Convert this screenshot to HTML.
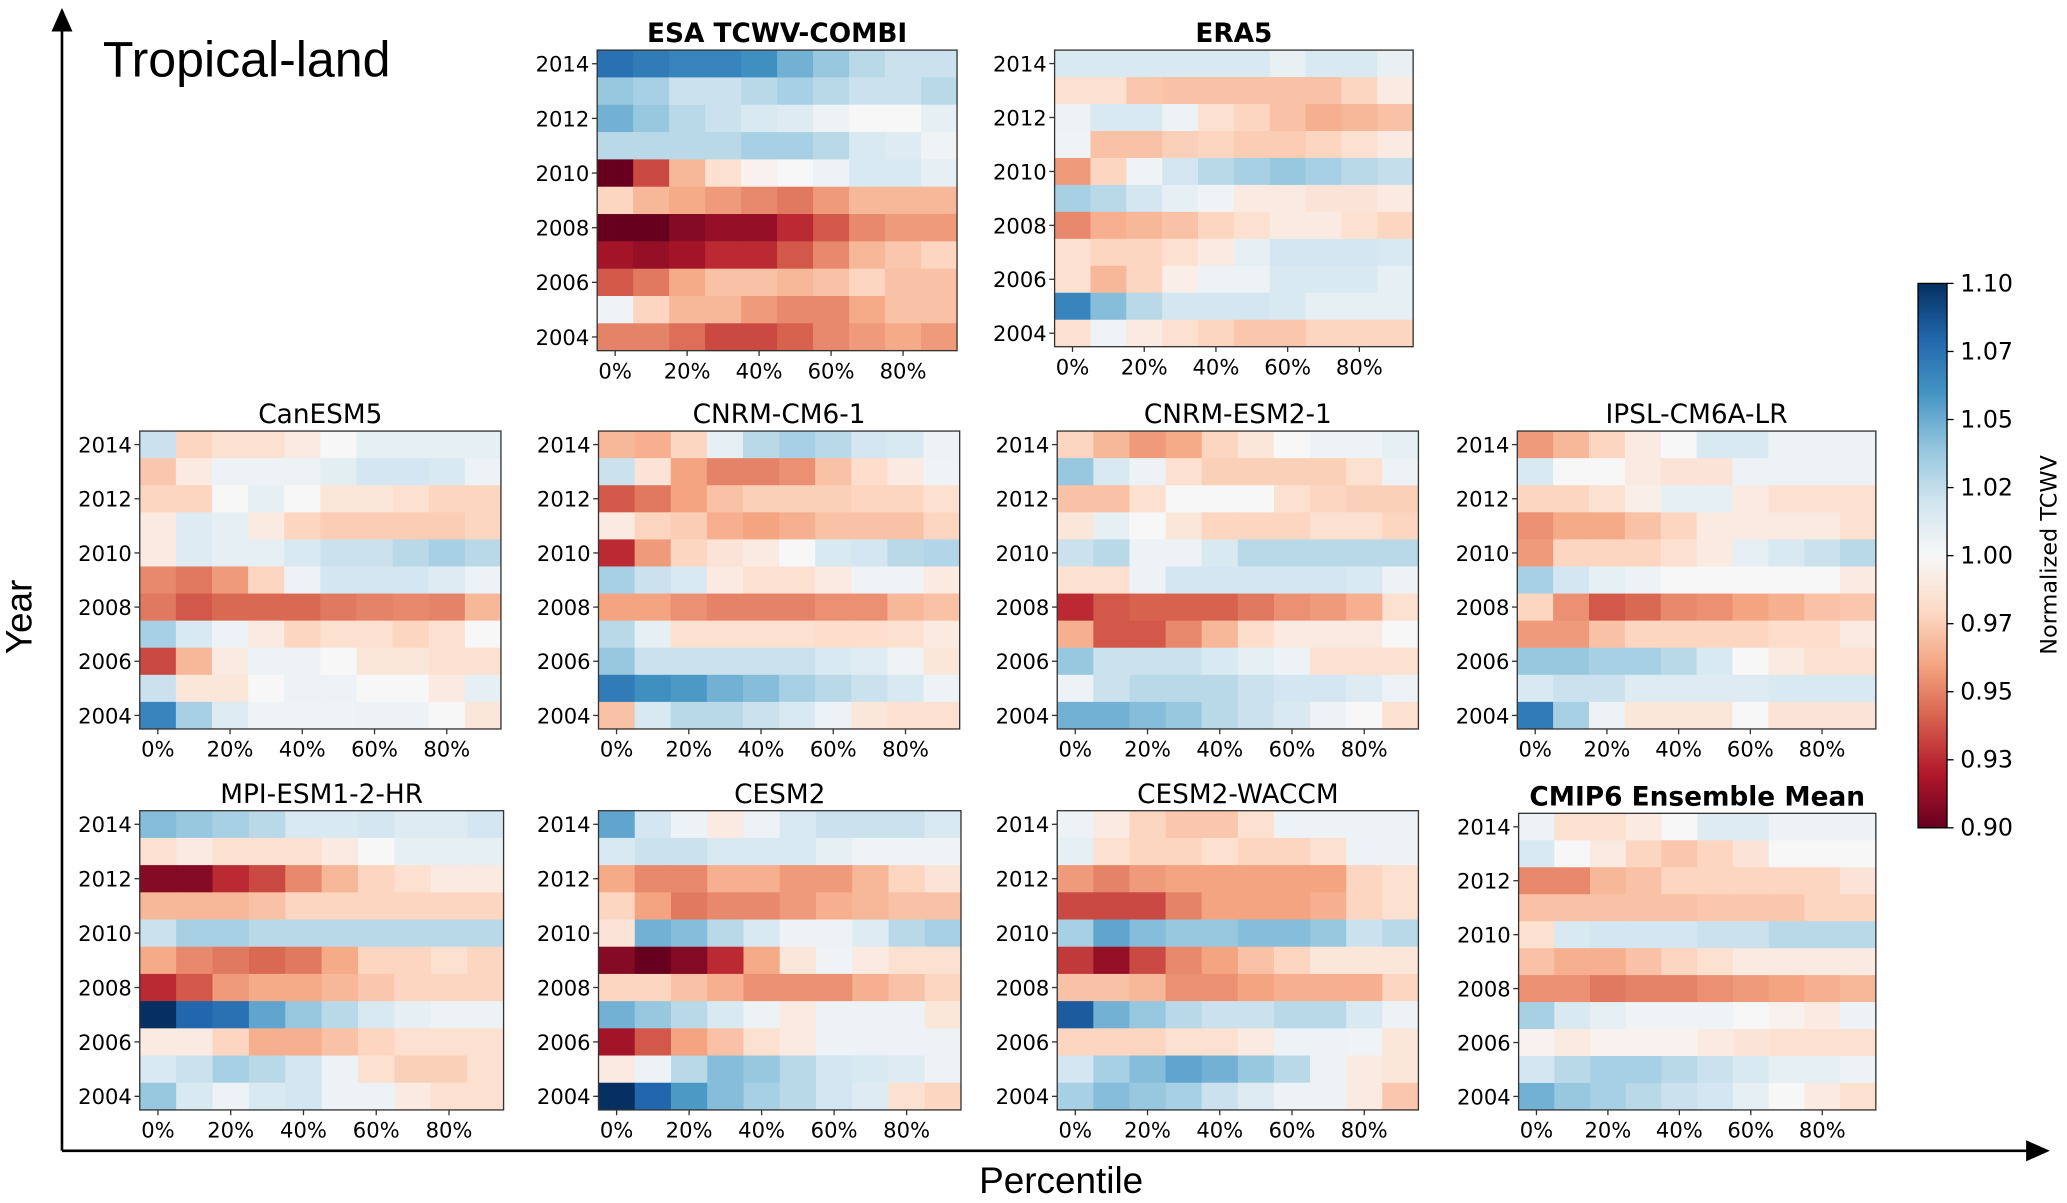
<!DOCTYPE html>
<html><head><meta charset="utf-8"><style>
html,body{margin:0;padding:0;background:#fff;}
svg{display:block;font-family:"Liberation Sans",sans-serif;}
.tk{font-family:"DejaVu Sans","Liberation Sans",sans-serif;}
</style></head><body>
<svg id="fig" width="2067" height="1203" viewBox="0 0 1568 912.6">
<defs>
<linearGradient id="cbg" x1="0" y1="1" x2="0" y2="0">
<stop offset="0" stop-color="#67001f"/><stop offset="0.1" stop-color="#b2182b"/><stop offset="0.2" stop-color="#d6604d"/><stop offset="0.3" stop-color="#f4a582"/><stop offset="0.4" stop-color="#fddbc7"/><stop offset="0.5" stop-color="#f7f7f7"/><stop offset="0.6" stop-color="#d1e5f0"/><stop offset="0.7" stop-color="#92c5de"/><stop offset="0.8" stop-color="#4393c3"/><stop offset="0.9" stop-color="#2166ac"/><stop offset="1" stop-color="#053061"/>
</linearGradient>
<marker id="arr" markerWidth="10" markerHeight="10" refX="8" refY="5" orient="auto"><path d="M0,1 L9,5 L0,9 Z" fill="#000"/></marker>
</defs>
<line x1="47" y1="873" x2="47" y2="8" stroke="#000" stroke-width="2" marker-end="url(#arr)"/>
<line x1="47" y1="873" x2="1553" y2="873" stroke="#000" stroke-width="2" marker-end="url(#arr)"/>
<text x="24" y="468" font-size="28" text-anchor="middle" transform="rotate(-90 24 468)">Year</text>
<text x="805" y="905" font-size="28" text-anchor="middle">Percentile</text>
<text x="78" y="58" font-size="38">Tropical-land</text>
<g id="panels"></g>
<rect x="1455" y="215" width="22" height="413" fill="url(#cbg)" stroke="#000" stroke-width="1"/>
<g id="cbticks"></g>
<text x="1560" y="421" font-size="17" text-anchor="middle" class="tk" transform="rotate(-90 1560 421)">Normalized TCWV</text>
</svg>
<script>
const years = [2014,2013,2012,2011,2010,2009,2008,2007,2006,2005,2004];
const yearTicks = [2014,2012,2010,2008,2006,2004];
const pctLabels = ["0%","20%","40%","60%","80%"];
const cbTicks = [1.10,1.075,1.05,1.025,1.00,0.975,0.95,0.925,0.90];
const cbLabels = ["1.10","1.07","1.05","1.02","1.00","0.97","0.95","0.93","0.90"];

const esa = [
[1.07,1.065,1.06,1.06,1.055,1.04,1.03,1.02,1.015,1.015],
[1.03,1.025,1.015,1.015,1.02,1.025,1.02,1.015,1.015,1.02],
[1.04,1.03,1.02,1.015,1.01,1.008,1.003,1.0,1.0,1.005],
[1.02,1.02,1.02,1.02,1.025,1.025,1.02,1.01,1.008,1.002],
[0.90,0.94,0.975,0.99,0.998,1.0,1.003,1.01,1.01,1.005],
[0.985,0.975,0.97,0.965,0.96,0.955,0.965,0.975,0.975,0.975],
[0.90,0.90,0.91,0.915,0.915,0.93,0.945,0.96,0.965,0.965],
[0.92,0.915,0.92,0.93,0.93,0.945,0.96,0.975,0.98,0.985],
[0.945,0.955,0.97,0.978,0.978,0.975,0.978,0.985,0.978,0.978],
[1.002,0.985,0.975,0.975,0.965,0.96,0.96,0.97,0.978,0.978],
[0.958,0.958,0.952,0.94,0.94,0.948,0.96,0.965,0.97,0.965]];
const era5 = [
[1.01,1.01,1.01,1.01,1.01,1.01,1.004,1.01,1.01,1.004],
[0.99,0.99,0.98,0.978,0.978,0.978,0.978,0.978,0.985,0.995],
[1.003,1.01,1.01,1.003,0.99,0.985,0.978,0.972,0.975,0.978],
[1.002,0.978,0.978,0.983,0.985,0.982,0.982,0.985,0.99,0.995],
[0.965,0.985,1.002,1.012,1.02,1.025,1.03,1.025,1.02,1.017],
[1.025,1.02,1.012,1.005,1.002,0.995,0.995,0.992,0.992,0.995],
[0.96,0.972,0.975,0.978,0.985,0.99,0.995,0.995,0.99,0.985],
[0.99,0.985,0.985,0.99,0.995,1.005,1.012,1.012,1.012,1.01],
[0.99,0.975,0.985,0.997,1.003,1.003,1.01,1.01,1.01,1.005],
[1.06,1.035,1.02,1.012,1.012,1.012,1.01,1.005,1.005,1.005],
[0.99,1.002,0.995,0.99,0.985,0.98,0.98,0.985,0.985,0.985]];
const canesm5 = [
[1.015,0.985,0.99,0.99,0.995,1.0,1.005,1.005,1.005,1.005],
[0.98,0.995,1.003,1.003,1.003,1.006,1.012,1.012,1.01,1.003],
[0.985,0.985,1.0,1.005,1.0,0.993,0.993,0.99,0.985,0.985],
[0.995,1.008,1.005,0.995,0.985,0.982,0.982,0.982,0.982,0.985],
[0.995,1.008,1.005,1.005,1.01,1.015,1.015,1.02,1.025,1.02],
[0.96,0.955,0.965,0.985,1.003,1.012,1.012,1.012,1.008,1.003],
[0.955,0.945,0.95,0.95,0.95,0.955,0.958,0.96,0.958,0.975],
[1.025,1.01,1.003,0.995,0.985,0.99,0.99,0.985,0.99,1.0],
[0.94,0.975,0.995,1.003,1.003,1.0,0.993,0.993,0.99,0.99],
[1.015,0.993,0.993,1.0,1.003,1.003,1.0,1.0,0.995,1.005],
[1.06,1.025,1.008,1.002,1.002,1.002,1.003,1.003,1.0,0.993]];
const cnrmcm = [
[0.975,0.972,0.985,1.005,1.02,1.025,1.02,1.012,1.01,1.003],
[1.015,0.992,0.968,0.958,0.958,0.962,0.978,0.988,0.995,1.002],
[0.945,0.955,0.968,0.978,0.983,0.983,0.983,0.985,0.985,0.99],
[0.995,0.985,0.982,0.972,0.968,0.972,0.978,0.978,0.978,0.985],
[0.93,0.965,0.985,0.992,0.995,1.0,1.01,1.012,1.02,1.022],
[1.025,1.015,1.01,0.995,0.99,0.99,0.995,1.002,1.002,0.995],
[0.968,0.968,0.962,0.958,0.958,0.958,0.962,0.962,0.975,0.978],
[1.02,1.005,0.99,0.99,0.99,0.99,0.988,0.988,0.99,0.995],
[1.03,1.015,1.015,1.015,1.015,1.015,1.01,1.007,1.002,0.993],
[1.065,1.055,1.05,1.04,1.035,1.025,1.02,1.015,1.01,1.003],
[0.978,1.01,1.02,1.02,1.015,1.01,1.003,0.993,0.99,0.99]];
const cnrmesm = [
[0.985,0.975,0.965,0.97,0.985,0.993,1.0,1.003,1.003,1.005],
[1.03,1.01,1.003,0.99,0.983,0.983,0.983,0.983,0.99,1.003],
[0.978,0.978,0.99,1.0,1.0,1.0,0.99,0.985,0.983,0.983],
[0.993,1.005,1.0,0.993,0.985,0.985,0.985,0.99,0.99,0.985],
[1.015,1.02,1.003,1.003,1.01,1.02,1.02,1.02,1.02,1.02],
[0.99,0.99,1.003,1.012,1.012,1.012,1.012,1.012,1.01,1.003],
[0.93,0.945,0.948,0.948,0.948,0.955,0.962,0.965,0.972,0.99],
[0.972,0.945,0.945,0.96,0.975,0.988,0.995,0.995,0.995,1.0],
[1.03,1.015,1.015,1.015,1.01,1.005,1.003,0.99,0.99,0.99],
[1.003,1.015,1.02,1.02,1.02,1.015,1.012,1.012,1.008,1.003],
[1.04,1.04,1.035,1.03,1.02,1.015,1.01,1.003,1.0,0.99]];
const ipsl = [
[0.965,0.975,0.985,0.995,1.0,1.01,1.01,1.003,1.003,1.003],
[1.01,1.0,1.0,0.995,0.992,0.992,1.003,1.003,1.003,1.003],
[0.985,0.985,0.99,0.997,1.005,1.005,0.995,0.99,0.99,0.99],
[0.962,0.97,0.97,0.978,0.985,0.995,0.995,0.995,0.995,0.99],
[0.965,0.985,0.985,0.985,0.99,0.995,1.005,1.01,1.015,1.02],
[1.025,1.012,1.005,1.003,1.0,1.0,1.0,1.0,1.0,0.995],
[0.985,0.962,0.945,0.95,0.96,0.962,0.968,0.972,0.978,0.98],
[0.965,0.965,0.978,0.985,0.985,0.985,0.985,0.988,0.988,0.995],
[1.03,1.03,1.025,1.025,1.02,1.01,1.0,0.995,0.99,0.99],
[1.01,1.015,1.015,1.008,1.008,1.008,1.008,1.01,1.01,1.01],
[1.065,1.025,1.003,0.993,0.993,0.993,1.0,0.992,0.992,0.992]];
const mpi = [
[1.035,1.03,1.025,1.02,1.01,1.01,1.012,1.008,1.008,1.012],
[0.99,0.995,0.99,0.99,0.99,0.995,1.0,1.005,1.005,1.005],
[0.91,0.91,0.93,0.94,0.96,0.975,0.985,0.99,0.995,0.995],
[0.975,0.975,0.975,0.978,0.985,0.985,0.985,0.985,0.985,0.985],
[1.015,1.025,1.025,1.02,1.02,1.02,1.02,1.02,1.02,1.02],
[0.97,0.96,0.955,0.95,0.955,0.97,0.985,0.985,0.99,0.985],
[0.93,0.945,0.965,0.97,0.97,0.975,0.98,0.985,0.985,0.985],
[1.1,1.075,1.07,1.045,1.03,1.02,1.01,1.005,1.003,1.003],
[0.995,0.995,0.985,0.972,0.972,0.978,0.985,0.99,0.99,0.99],
[1.01,1.015,1.025,1.02,1.012,1.003,0.99,0.983,0.983,0.99],
[1.03,1.01,1.003,1.01,1.012,1.003,1.003,0.995,0.99,0.99]];
const cesm2 = [
[1.045,1.012,1.003,0.995,1.003,1.01,1.015,1.015,1.015,1.01],
[1.01,1.015,1.015,1.01,1.01,1.01,1.005,1.002,1.002,1.002],
[0.97,0.96,0.96,0.972,0.972,0.965,0.965,0.975,0.985,0.992],
[0.985,0.968,0.955,0.96,0.96,0.965,0.972,0.975,0.978,0.978],
[0.992,1.04,1.035,1.02,1.01,1.003,1.003,1.008,1.02,1.025],
[0.91,0.90,0.91,0.93,0.97,0.993,1.002,0.995,0.99,0.99],
[0.985,0.985,0.978,0.972,0.962,0.962,0.962,0.972,0.978,0.985],
[1.04,1.03,1.02,1.01,1.003,0.995,1.003,1.003,1.003,0.993],
[0.92,0.945,0.968,0.978,0.99,0.995,1.003,1.003,1.003,1.003],
[0.995,1.003,1.02,1.035,1.03,1.02,1.012,1.01,1.008,1.003],
[1.1,1.075,1.05,1.035,1.025,1.02,1.012,1.008,0.99,0.985]];
const waccm = [
[1.003,0.995,0.985,0.98,0.98,0.99,1.003,1.003,1.003,1.003],
[1.005,0.99,0.985,0.985,0.99,0.985,0.985,0.99,1.003,1.003],
[0.965,0.958,0.965,0.968,0.968,0.968,0.968,0.968,0.985,0.99],
[0.94,0.94,0.94,0.958,0.968,0.968,0.968,0.972,0.985,0.99],
[1.025,1.045,1.035,1.03,1.03,1.035,1.035,1.03,1.015,1.02],
[0.935,0.915,0.94,0.96,0.968,0.978,0.985,0.993,0.993,0.993],
[0.978,0.978,0.975,0.962,0.962,0.968,0.972,0.972,0.972,0.985],
[1.08,1.04,1.03,1.02,1.015,1.015,1.02,1.02,1.01,1.003],
[0.985,0.985,0.985,0.99,0.99,0.995,1.003,1.003,1.002,0.993],
[1.012,1.025,1.035,1.045,1.04,1.03,1.02,1.003,0.995,0.993],
[1.025,1.035,1.03,1.025,1.015,1.008,1.003,1.003,0.995,0.98]];
const ensemble = [
[1.003,0.99,0.99,0.995,1.0,1.008,1.008,1.003,1.003,1.003],
[1.01,1.0,0.995,0.985,0.98,0.985,0.992,1.0,1.0,1.0],
[0.96,0.96,0.975,0.978,0.985,0.985,0.985,0.985,0.985,0.992],
[0.978,0.978,0.978,0.978,0.978,0.98,0.98,0.98,0.985,0.985],
[0.99,1.01,1.012,1.012,1.012,1.015,1.015,1.02,1.02,1.02],
[0.978,0.972,0.972,0.978,0.985,0.99,0.995,0.995,0.995,0.995],
[0.962,0.962,0.955,0.958,0.958,0.962,0.965,0.968,0.972,0.975],
[1.025,1.01,1.005,1.002,1.002,1.002,1.0,0.998,0.995,1.003],
[0.998,0.995,0.998,0.998,0.998,0.995,0.992,0.99,0.99,0.99],
[1.012,1.02,1.025,1.025,1.02,1.015,1.01,1.005,1.005,1.003],
[1.04,1.03,1.025,1.02,1.015,1.012,1.005,1.0,0.995,0.99]];

const RDBU = ["#67001f","#b2182b","#d6604d","#f4a582","#fddbc7","#f7f7f7","#d1e5f0","#92c5de","#4393c3","#2166ac","#053061"];
function hex(c){return [1,3,5].map(i=>parseInt(c.substr(i,2),16));}
function color(v){
  let u=Math.max(-1,Math.min(1,(v-1)/0.1));
  u=Math.sign(u)*Math.pow(Math.abs(u),0.8);
  let t=(u+1)/2*10;
  let i=Math.min(9,Math.floor(t)),f=t-i;
  let a=hex(RDBU[i]),b=hex(RDBU[i+1]);
  return "rgb("+a.map((x,k)=>Math.round(x+(b[k]-x)*f)).join(",")+")";
}
const NS="http://www.w3.org/2000/svg";
function mk(tag,attrs,parent){const e=document.createElementNS(NS,tag);for(const k in attrs)e.setAttribute(k,attrs[k]);parent.appendChild(e);return e;}

const panels=[
 {title:"ESA TCWV-COMBI",bold:true,data:esa,x:453,y:38,w:273,h:228,slug:"esa"},
 {title:"ERA5",bold:true,data:era5,x:800,y:38,w:272,h:225,slug:"era5"},
 {title:"CanESM5",bold:false,data:canesm5,x:106,y:327,w:274,h:226,slug:"canesm5"},
 {title:"CNRM-CM6-1",bold:false,data:cnrmcm,x:454,y:327,w:274,h:226,slug:"cnrm-cm6-1"},
 {title:"CNRM-ESM2-1",bold:false,data:cnrmesm,x:802,y:327,w:274,h:226,slug:"cnrm-esm2-1"},
 {title:"IPSL-CM6A-LR",bold:false,data:ipsl,x:1151,y:327,w:272,h:226,slug:"ipsl"},
 {title:"MPI-ESM1-2-HR",bold:false,data:mpi,x:106,y:615,w:276,h:227,slug:"mpi"},
 {title:"CESM2",bold:false,data:cesm2,x:454,y:615,w:275,h:227,slug:"cesm2"},
 {title:"CESM2-WACCM",bold:false,data:waccm,x:802,y:615,w:274,h:227,slug:"cesm2-waccm"},
 {title:"CMIP6 Ensemble Mean",bold:true,data:ensemble,x:1152,y:617,w:271,h:225,slug:"ensemble"}
];
const root=document.getElementById("panels");
panels.forEach(p=>{
  const g=mk("g",{},root);
  
  
  const nR=years.length,nC=p.data[0].length;
  const cw=p.w/nC,ch=p.h/nR;
  const yS=yr=>p.y+years.indexOf(yr)*ch;
  const xS=c=>p.x+c*cw;
  p.data.forEach((row,r)=>row.forEach((v,c)=>{
    const rc=mk("rect",{x:xS(c),y:yS(years[r]),width:cw+0.4,height:ch+0.4,fill:color(v)},g);
    
    
  }));
  const fr=mk("rect",{x:p.x,y:p.y,width:p.w,height:p.h,fill:"none",stroke:"#333","stroke-width":1},g);
  
  
  const t=mk("text",{x:p.x+p.w/2,y:p.y-6,"font-size":20,"text-anchor":"middle","font-weight":p.bold?"bold":"normal",class:"tk"},g);
  t.textContent=p.title;
  
  
  yearTicks.forEach(yr=>{
    const cy=yS(yr)+ch/2;
    mk("line",{x1:p.x-4,x2:p.x,y1:cy,y2:cy,stroke:"#333"},g);
    const l=mk("text",{x:p.x-6,y:cy+6,"font-size":16,"text-anchor":"end",class:"tk"},g);
    l.textContent=yr;
    
    
  });
  pctLabels.forEach((lab,i)=>{
    const cx=xS(i*2)+cw/2;
    mk("line",{x1:cx,x2:cx,y1:p.y+p.h,y2:p.y+p.h+4,stroke:"#333"},g);
    const l=mk("text",{x:cx,y:p.y+p.h+21,"font-size":16,"text-anchor":"middle",class:"tk"},g);
    l.textContent=lab;
    
    
  });
});
const cbg=document.getElementById("cbticks");
const cbY=v=>628-(v-0.9)/0.2*413;
cbTicks.forEach((v,i)=>{
  const y=cbY(v);
  mk("line",{x1:1477,x2:1482,y1:y,y2:y,stroke:"#000"},cbg);
  const l=mk("text",{x:1487,y:y+6,"font-size":18,class:"tk"},cbg);
  l.textContent=cbLabels[i];
  
  
});
</script>
</body></html>
